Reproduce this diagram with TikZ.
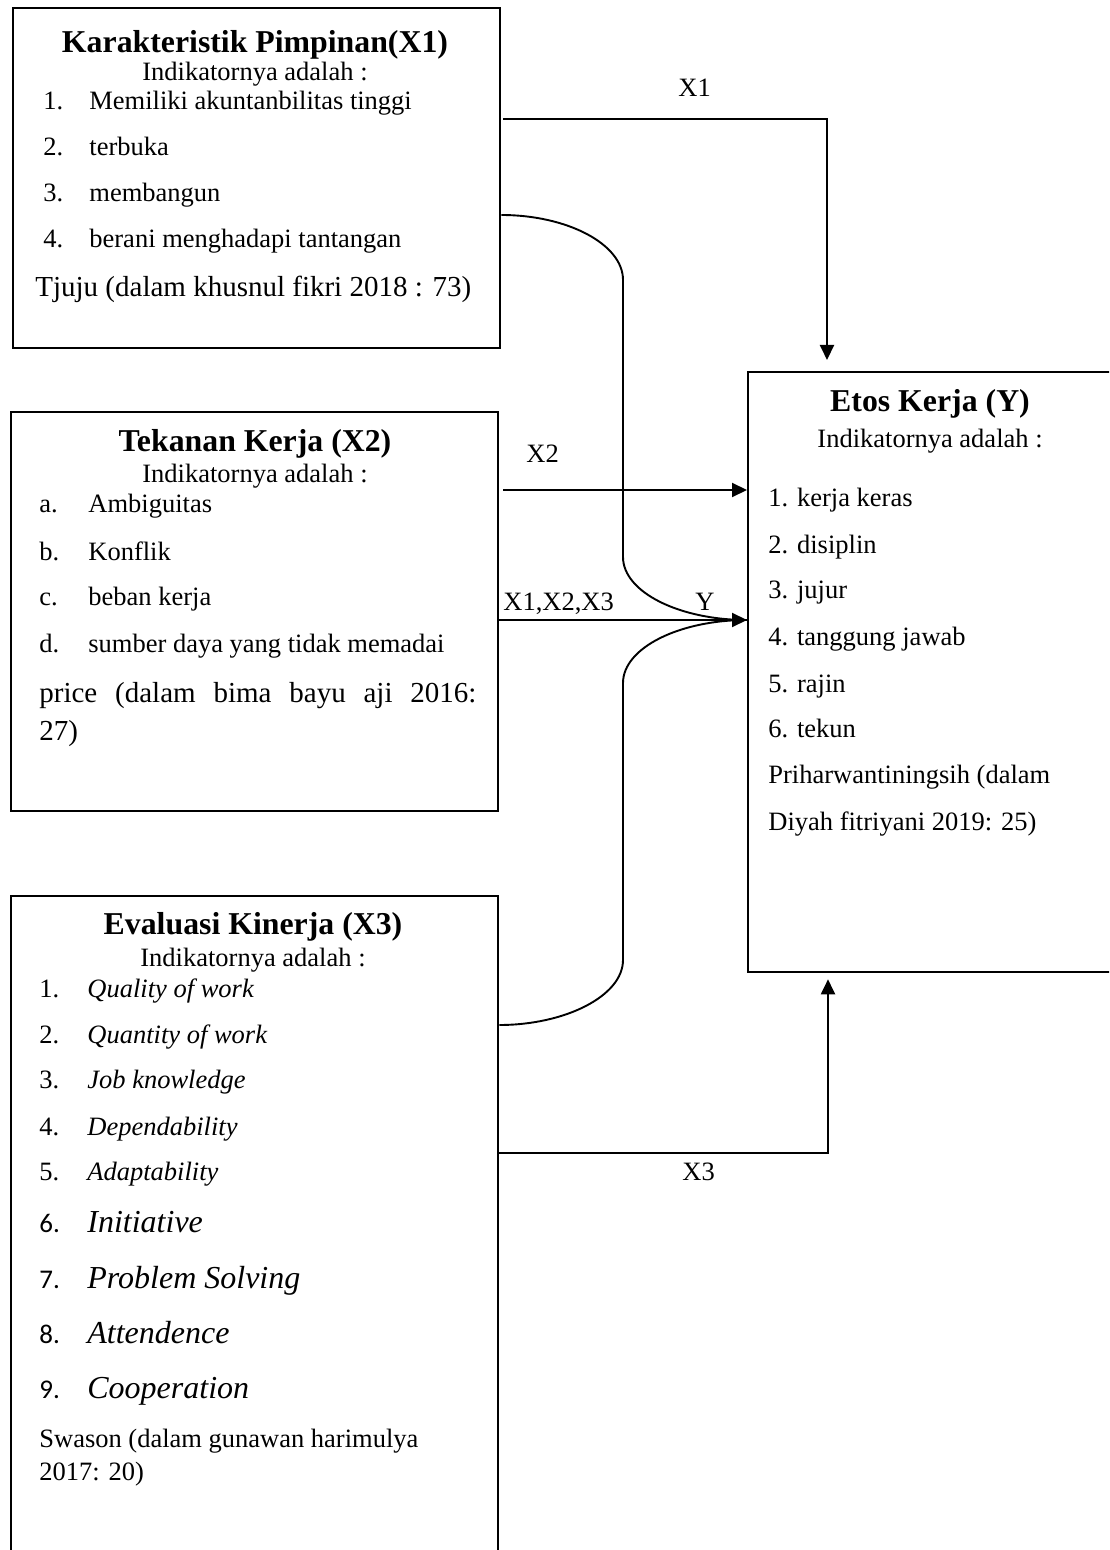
\documentclass[tikz,border=0pt]{standalone}
\usepackage{fontspec}
\setmainfont{Liberation Serif}
\newfontfamily\calfont{Carlito}
\usetikzlibrary{arrows.meta,calc}
\newcommand\bodyfont{\fontsize{13.25pt}{16pt}\selectfont}
\newcommand\citefont{\fontsize{14.5pt}{17pt}\selectfont}
\newcommand\titlefont{\fontsize{15.9pt}{19pt}\selectfont\bfseries}
\newcommand\bigitfont{\fontsize{16pt}{19pt}\selectfont\itshape}
\newcommand\numfont{\fontsize{13.5pt}{16pt}\selectfont\calfont}
\tikzset{
  box/.style={draw, line width=1.15pt, anchor=north west, inner sep=0pt},
  txt/.style={inner sep=0pt, anchor=base west, font=\bodyfont},
  ttl/.style={inner sep=0pt, anchor=base, font=\titlefont},
  ind/.style={inner sep=0pt, anchor=base, font=\bodyfont},
  lbl/.style={inner sep=0pt, anchor=base west, font=\bodyfont},
  arr/.style={line width=1pt, -{Triangle[length=7.5pt, width=7pt]}},
  conn/.style={line width=0.95pt},
}
\begin{document}
\begin{tikzpicture}[x=0.5pt, y=-0.5pt]
\useasboundingbox (0,0) rectangle (1109,1550);
\clip (0,0) rectangle (1109,1550);

% boxes
\node[box, minimum width=243.5pt, minimum height=170pt] (b1) at (12,7) {};
\node[box, minimum width=243.5pt, minimum height=199.5pt] (b2) at (10,411) {};
\node[box, minimum width=243.5pt, minimum height=352.5pt] (b3) at (10,895) {};
\node[box, minimum width=191.5pt, minimum height=300pt] (bY) at (747,371) {};

% box 1 text
\node[ttl] (t1) at (255,53) {Karakteristik Pimpinan(X1)};
\node[ind] (i1) at (255,81) {Indikatornya adalah :};
\node[txt] (n11) at (43,110) {1.}; \node[txt] (e11) at (89,110) {Memiliki akuntanbilitas tinggi};
\node[txt] (n12) at (43,156) {2.}; \node[txt] (e12) at (89,156) {terbuka};
\node[txt] (n13) at (43,202) {3.}; \node[txt] (e13) at (89,202) {membangun};
\node[txt] (n14) at (43,248) {4.}; \node[txt] (e14) at (89,248) {berani menghadapi tantangan};
\node[txt, font=\citefont] (c1t) at (35,297) {Tjuju (dalam khusnul fikri 2018 : 73)};

% box 2 text
\node[ttl] (t2) at (255,452) {Tekanan Kerja (X2)};
\node[ind] (i2) at (255,483) {Indikatornya adalah :};
\node[txt] (n21) at (39,513) {a.}; \node[txt] (e21) at (88,513) {Ambiguitas};
\node[txt] (n22) at (39,560) {b.}; \node[txt] (e22) at (88,560) {Konflik};
\node[txt] (n23) at (39,605) {c.}; \node[txt] (e23) at (88,605) {beban kerja};
\node[txt] (n24) at (39,652) {d.}; \node[txt] (e24) at (88,652) {sumber daya yang tidak memadai};
\node[txt, font=\citefont] (c2a) at (39,702) {\makebox[218.5pt][s]{price (dalam bima bayu aji 2016:}};
\node[txt, font=\citefont] (c2b) at (39,740) {27)};

% box 3 text
\node[ttl] (t3) at (253,934) {Evaluasi Kinerja (X3)};
\node[ind] (i3) at (253,966) {Indikatornya adalah :};
\node[txt] (n31) at (39,997) {1.}; \node[txt, font=\bodyfont\itshape] (e31) at (87,997) {Quality of work};
\node[txt] (n32) at (39,1043) {2.}; \node[txt, font=\bodyfont\itshape] (e32) at (87,1043) {Quantity of work};
\node[txt] (n33) at (39,1088) {3.}; \node[txt, font=\bodyfont\itshape] (e33) at (87,1088) {Job knowledge};
\node[txt] (n34) at (39,1135) {4.}; \node[txt, font=\bodyfont\itshape] (e34) at (87,1135) {Dependability};
\node[txt] (n35) at (39,1180) {5.}; \node[txt, font=\bodyfont\itshape] (e35) at (87,1180) {Adaptability};
\node[txt, font=\numfont] (n36) at (39,1232) {6.}; \node[txt, font=\bigitfont] (e36) at (87,1232) {Initiative};
\node[txt, font=\numfont] (n37) at (39,1288) {7.}; \node[txt, font=\bigitfont] (e37) at (87,1288) {Problem Solving};
\node[txt, font=\numfont] (n38) at (39,1343) {8.}; \node[txt, font=\bigitfont] (e38) at (87,1343) {Attendence};
\node[txt, font=\numfont] (n39) at (39,1398) {9.}; \node[txt, font=\bigitfont] (e39) at (87,1398) {Cooperation};
\node[txt] (c3a) at (39,1447) {Swason (dalam gunawan harimulya};
\node[txt] (c3b) at (39,1480) {2017: 20)};

% box Y text
\node[ttl] (tY) at (930,412) {Etos Kerja (Y)};
\node[ind] (iY) at (930,448) {Indikatornya adalah :};
\node[txt] (y1) at (768,507) {1. kerja keras};
\node[txt] (y2) at (768,553) {2. disiplin};
\node[txt] (y3) at (768,598) {3. jujur};
\node[txt] (y4) at (768,645) {4. tanggung jawab};
\node[txt] (y5) at (768,692) {5. rajin};
\node[txt] (y6) at (768,737) {6. tekun};
\node[txt] (yc1) at (768,783) {Priharwantiningsih (dalam};
\node[txt] (yc2) at (768,830) {Diyah fitriyani 2019: 25)};

% connector anchor points
\coordinate (x1s) at ($(b1.north east)+(2,112)$);
\coordinate (x1e) at ($(bY.north west)+(80,-11)$);
\coordinate (cu1) at ($(b1.north east)+(0,208)$);
\coordinate (tip) at ($(bY.north west)+(0,249)$);
\coordinate (x2s) at ($(b2.north east)+(4,79)$);
\coordinate (x2e) at ($(bY.north west)+(0,119)$);
\coordinate (x123s) at ($(b2.north east)+(0,209)$);
\coordinate (cu3) at ($(b3.north east)+(0,130)$);
\coordinate (x3s) at ($(b3.north east)+(0,258)$);
\coordinate (x3e) at ($(bY.south west)+(81,6)$);

% connectors
\draw[arr] (x1s) -| (x1e);
\draw[arr] (x2s) -- (x2e);
\draw[arr] (x123s) -- (tip);
\draw[arr] (x3s) -| (x3e);
\draw[conn] (cu1) .. controls (567,215) and (623,244) .. (623,280)
  -- (623,557) .. controls (623,592) and (679,620) .. (tip);
\draw[conn] (tip) .. controls (679,620) and (623,648) .. (623,683)
  -- (623,960) .. controls (623,996) and (565,1025) .. (cu3);

% labels
\node[lbl] (lx1) at (678,97) {X1};
\node[lbl] (lx2) at (526,463) {X2};
\node[lbl] (lx123) at (503,610) {X1,X2,X3};
\node[lbl] (ly) at (695,610) {Y};
\node[lbl] (lx3) at (682,1180) {X3};
\end{tikzpicture}
\end{document}
